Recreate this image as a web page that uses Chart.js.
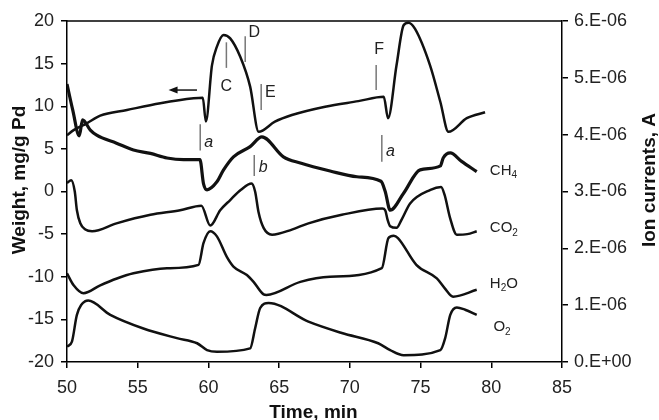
<!DOCTYPE html>
<html>
<head>
<meta charset="utf-8">
<script src="https://cdn.jsdelivr.net/npm/chart.js@4"></script>
<style>
  body { margin: 0; background: #fff; }
  canvas { display: block; }
</style>
</head>
<body>
<canvas id="chart" width="659" height="420"></canvas>
<script>
// weight, mg/g Pd  [time, value] - left axis
const weight = [
    [50.0, 6.6], [50.47, 7.2], [51.4, 8.0], [52.35, 8.9], [54.24, 9.56], [56.6, 10.35],
    [58.95, 10.93], [59.6, 11.0], [59.82, 8.2], [60.25, 14.8], [60.6, 17.0], [61.07, 18.36],
    [61.54, 17.96], [62.25, 15.8], [62.95, 12.3], [63.55, 7.0], [64.7, 8.19], [65.9, 8.97],
    [68.25, 9.95], [70.6, 10.6], [72.4, 11.1], [72.7, 8.6], [73.3, 14.8], [73.8, 19.5],
    [74.14, 19.8], [74.6, 19.1], [75.67, 14.8], [76.4, 10.5], [76.97, 7.0], [78.27, 8.6],
    [79.56, 9.3]
];

// ion currents in units of 1E-06 A - right axis
const ch4 = [
    [50.0, 4.89], [50.4, 4.44], [50.87, 3.98], [51.1, 4.26], [51.65, 4.08], [52.1, 3.99],
    [53.5, 3.85], [54.7, 3.73], [55.9, 3.67], [57.07, 3.59], [58.24, 3.56], [59.4, 3.56],
    [59.65, 3.14], [59.9, 3.03], [60.6, 3.17], [61.07, 3.38], [61.77, 3.61], [62.95, 3.79],
    [63.78, 3.96], [65.3, 3.61], [66.5, 3.50], [68.6, 3.36], [70.5, 3.26], [72.2, 3.18],
    [72.5, 3.00], [72.85, 2.67], [73.8, 2.97], [74.97, 3.38], [76.4, 3.45], [76.6, 3.59],
    [77.1, 3.68], [77.9, 3.53], [78.97, 3.35]
];
const co2 = [
    [50.0, 3.15], [50.3, 3.20], [50.55, 3.00], [50.7, 2.67], [50.94, 2.44], [51.3, 2.33],
    [51.77, 2.30], [53.5, 2.44], [55.9, 2.59], [58.0, 2.67], [59.5, 2.75], [60.13, 2.40],
    [60.83, 2.67], [61.54, 2.85], [62.3, 3.03], [63.05, 3.14], [63.3, 3.00], [63.54, 2.64],
    [63.9, 2.36], [64.5, 2.24], [65.9, 2.33], [67.07, 2.44], [69.43, 2.59], [72.3, 2.70],
    [72.5, 2.67], [72.66, 2.51], [72.85, 2.39], [73.3, 2.36], [73.67, 2.51], [74.26, 2.79],
    [75.7, 3.03], [76.45, 3.08], [76.7, 2.94], [77.09, 2.53], [77.56, 2.24], [78.3, 2.25],
    [78.97, 2.30]
];
const h2o = [
    [50.0, 1.56], [50.47, 1.35], [51.17, 1.21], [52.35, 1.35], [53.53, 1.47], [54.7, 1.56],
    [57.07, 1.65], [59.3, 1.71], [59.65, 2.09], [60.13, 2.30], [60.6, 2.21], [61.3, 1.85],
    [61.77, 1.68], [62.72, 1.53], [63.19, 1.41], [63.9, 1.19], [64.1, 1.18], [66.5, 1.41],
    [68.6, 1.50], [72.26, 1.65], [72.73, 2.18], [73.1, 2.22], [73.4, 2.18], [74.7, 1.71],
    [76.15, 1.47], [76.7, 1.30], [77.3, 1.15], [78.97, 1.27]
];
const o2 = [
    [50.0, 0.27], [50.35, 0.36], [50.7, 0.83], [51.3, 1.07], [51.5, 1.08], [53.06, 0.83],
    [55.4, 0.59], [57.77, 0.42], [59.2, 0.33], [59.9, 0.21], [60.6, 0.18], [62.95, 0.24],
    [63.3, 0.59], [63.66, 0.95], [64.25, 1.04], [67.07, 0.71], [69.43, 0.51], [72.0, 0.33],
    [72.85, 0.21], [73.8, 0.12], [76.4, 0.21], [76.74, 0.42], [77.1, 0.83], [77.56, 0.96],
    [78.15, 0.92], [78.97, 0.83]
];

const ionTicks = ['0.E+00', '1.E-06', '2.E-06', '3.E-06', '4.E-06', '5.E-06', '6.E-06'];

// marker line [time, from, to] (weight units), label text, label [time, value], italic
const markers = [
    [61.27, 17.5, 14.5, 'C', 61.27, 12.3, false],
    [62.6, 18.2, 15.2, 'D', 63.25, 18.6, false],
    [63.73, 12.6, 9.56, 'E', 64.37, 11.6, false],
    [71.86, 14.84, 11.9, 'F', 72.07, 16.7, false],
    [59.42, 7.9, 4.8, 'a', 60.02, 5.7, true],
    [63.24, 4.28, 1.82, 'b', 63.88, 2.76, true],
    [72.26, 6.63, 3.5, 'a', 72.87, 4.63, true]
];

// series labels [main, subscript, tail, time, ion value]
const seriesLabels = [
    ['CH', '4', '', 79.9, 3.37],
    ['CO', '2', '', 79.9, 2.36],
    ['H', '2', 'O', 79.9, 1.38],
    ['O', '2', '', 80.15, 0.62]
];

const FONT = '"Liberation Sans", Arial, sans-serif';

function toPoints(arr) {
    return arr.map(p => ({ x: p[0], y: p[1] }));
}

function lineSet(arr, axis, width) {
    return {
        data: toPoints(arr), yAxisID: axis, borderColor: '#111', borderWidth: width,
        pointRadius: 0, fill: false, cubicInterpolationMode: 'monotone'
    };
}

const overlay = {
    id: 'overlay',
    afterDraw(chart) {
        const ctx = chart.ctx;
        const a = chart.chartArea;
        const x = chart.scales.x, y = chart.scales.y, y1 = chart.scales.y1;
        ctx.save();

        // top frame line
        ctx.strokeStyle = '#000';
        ctx.lineWidth = 1.5;
        ctx.beginPath();
        ctx.moveTo(a.left, a.top);
        ctx.lineTo(a.right, a.top);
        ctx.stroke();

        // marker lines + letters
        markers.forEach(m => {
            const px = x.getPixelForValue(m[0]);
            ctx.strokeStyle = '#777';
            ctx.lineWidth = 1.5;
            ctx.beginPath();
            ctx.moveTo(px, y.getPixelForValue(m[1]));
            ctx.lineTo(px, y.getPixelForValue(m[2]));
            ctx.stroke();
            ctx.fillStyle = '#222';
            ctx.font = (m[6] ? 'italic ' : '') + '16px ' + FONT;
            ctx.textAlign = 'center';
            ctx.textBaseline = 'middle';
            ctx.fillText(m[3], x.getPixelForValue(m[4]), y.getPixelForValue(m[5]));
        });

        // arrow pointing to the weight axis
        const ax0 = x.getPixelForValue(59.19), ax1 = x.getPixelForValue(57.18), ay = y.getPixelForValue(11.9);
        ctx.strokeStyle = '#111';
        ctx.lineWidth = 1.5;
        ctx.beginPath();
        ctx.moveTo(ax0, ay);
        ctx.lineTo(ax1 + 6, ay);
        ctx.stroke();
        ctx.fillStyle = '#111';
        ctx.beginPath();
        ctx.moveTo(ax1, ay);
        ctx.lineTo(ax1 + 9, ay - 3.5);
        ctx.lineTo(ax1 + 9, ay + 3.5);
        ctx.closePath();
        ctx.fill();

        // series labels with subscripts
        ctx.fillStyle = '#222';
        ctx.textAlign = 'left';
        ctx.textBaseline = 'middle';
        seriesLabels.forEach(s => {
            let px = x.getPixelForValue(s[3]);
            const py = y1.getPixelForValue(s[4]);
            ctx.font = '15px ' + FONT;
            ctx.fillText(s[0], px, py);
            px += ctx.measureText(s[0]).width;
            ctx.font = '10px ' + FONT;
            ctx.fillText(s[1], px, py + 5);
            px += ctx.measureText(s[1]).width;
            ctx.font = '15px ' + FONT;
            ctx.fillText(s[2], px, py);
        });

        // axis titles
        ctx.fillStyle = '#111';
        ctx.font = 'bold 19px ' + FONT;
        ctx.textAlign = 'center';
        ctx.textBaseline = 'alphabetic';
        ctx.fillText('Time, min', (a.left + a.right) / 2 - 1, 418);

        ctx.textBaseline = 'middle';
        ctx.translate(20, 180);
        ctx.rotate(-Math.PI / 2);
        ctx.fillText('Weight, mg/g Pd', 0, 0);
        ctx.restore();

        ctx.save();
        ctx.fillStyle = '#111';
        ctx.font = 'bold 19px ' + FONT;
        ctx.textAlign = 'center';
        ctx.textBaseline = 'middle';
        ctx.translate(650, 180);
        ctx.rotate(-Math.PI / 2);
        ctx.fillText('Ion currents, A', 0, 0);
        ctx.restore();
    }
};

const axisGrid = { drawOnChartArea: false, drawTicks: true, tickLength: 6, color: '#000', lineWidth: 1.5 };
const axisBorder = { color: '#000', width: 1.5 };
const tickFont = { family: FONT, size: 18 };

new Chart(document.getElementById('chart'), {
    type: 'line',
    data: {
        datasets: [
            lineSet(weight, 'y', 2.5),
            lineSet(ch4, 'y1', 3.2),
            lineSet(co2, 'y1', 2.5),
            lineSet(h2o, 'y1', 2.5),
            lineSet(o2, 'y1', 2.5)
        ]
    },
    options: {
        responsive: false,
        animation: false,
        layout: { padding: { top: 21, left: 0, right: 0, bottom: 0 } },
        plugins: { legend: { display: false }, tooltip: { enabled: false } },
        scales: {
            x: {
                type: 'linear', min: 50, max: 85,
                ticks: { stepSize: 5, color: '#222', font: tickFont, padding: 9, maxRotation: 0 },
                grid: axisGrid, border: axisBorder,
                afterFit: s => { s.height = 58; }
            },
            y: {
                position: 'left', min: -20, max: 20,
                ticks: { stepSize: 5, color: '#222', font: tickFont, padding: 7 },
                grid: axisGrid, border: axisBorder,
                afterFit: s => { s.width = 67; }
            },
            y1: {
                position: 'right', min: 0, max: 6,
                ticks: { stepSize: 1, color: '#222', font: tickFont, padding: 6,
                    callback: v => ionTicks[Math.round(v)] },
                grid: axisGrid, border: axisBorder,
                afterFit: s => { s.width = 97; }
            }
        }
    },
    plugins: [overlay]
});
</script>
</body>
</html>
